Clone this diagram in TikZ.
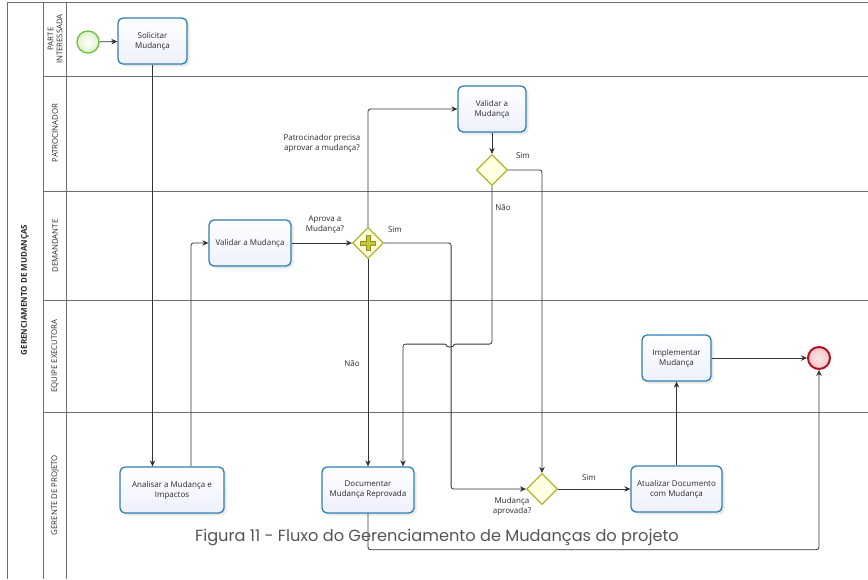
\documentclass[tikz,border=0pt]{standalone}
\usepackage{fontspec}
\setmainfont{Open Sans}
\newfontfamily\capfont{Poppins}
\usetikzlibrary{shapes.geometric,arrows.meta,shadows,calc}

\definecolor{taskblue}{HTML}{2F7FB0}
\definecolor{taskfill}{HTML}{EEF0FC}
\definecolor{gateline}{HTML}{B4B42C}
\definecolor{gatefill}{HTML}{FFFFE2}
\definecolor{plusfill}{HTML}{C6C638}
\definecolor{startline}{HTML}{6CBF3C}
\definecolor{startfill}{HTML}{DDF2C8}
\definecolor{endline}{HTML}{B0141C}
\definecolor{endfill}{HTML}{F3C4C6}
\definecolor{flowc}{HTML}{333333}
\definecolor{lanec}{HTML}{6E6E6E}
\definecolor{txt}{HTML}{2A2A2A}
\definecolor{capc}{HTML}{555555}

\tikzset{
  task/.style={draw=taskblue, line width=1.3pt, rounded corners=5pt,
    top color=white, bottom color=taskfill, minimum height=46pt,
    align=center, font=\fontsize{8}{10}\selectfont, text=txt, inner sep=2pt,
    drop shadow={opacity=0.18, shadow xshift=2.5pt, shadow yshift=-2.5pt}},
  gate/.style={diamond, draw=gateline, line width=1.2pt, fill=gatefill,
    minimum width=31pt, minimum height=31pt, inner sep=0pt},
  flow/.style={draw=flowc, line width=0.8pt, rounded corners=2.5pt,
    -{Stealth[length=6pt,width=5.5pt]}},
  lbl/.style={font=\fontsize{8}{10}\selectfont, text=txt, align=center, inner sep=0pt},
  lanelbl/.style={font=\fontsize{7.8}{9}\selectfont, text=txt, rotate=90, align=center, inner sep=0pt},
  laneline/.style={draw=lanec, line width=0.9pt},
}

\begin{document}
\begin{tikzpicture}[x=1pt,y=-1pt]
\useasboundingbox (0,0) rectangle (868,579);
\fill[white] (0,0) rectangle (868,579);

% pool and lanes
\draw[laneline] (868,2) -- (7,2) -- (7,579);
\draw[laneline] (43,2) -- (43,579);
\draw[laneline] (66,2) -- (66,579);
\foreach \yy in {76,191,300,412}
  \draw[laneline] (43,\yy) -- (868,\yy);

\node[lanelbl, font=\fontsize{8}{9}\selectfont\bfseries] (pool) at (25,290) {GERENCIAMENTO DE MUDANÇAS};
\node[lanelbl] (l1) at (55,39) {PARTE\\INTERESSADA};
\node[lanelbl] (l2) at (55,133) {PATROCINADOR};
\node[lanelbl] (l3) at (55,246) {DEMANDANTE};
\node[lanelbl] (l4) at (55,356) {EQUIPE EXECUTORA};
\node[lanelbl] (l5) at (55,495) {GERENTE DE PROJETO};

% events
\node[circle, draw=startline, line width=1.3pt, inner color=white, outer color=startfill,
  minimum size=22pt, inner sep=0pt] (start) at (88,42) {};
\node[circle, draw=endline, line width=2pt, inner color=white!60!endfill, outer color=endfill,
  minimum size=22pt, inner sep=0pt] (end) at (819,358) {};

% tasks
\node[task, minimum width=69pt] (sol) at (152.5,41) {Solicitar\\Mudança};
\node[task, minimum width=104pt] (ana) at (172,490) {Analisar a Mudança e\\Impactos};
\node[task, minimum width=82pt] (valD) at (250,243) {Validar a Mudança};
\node[task, minimum width=68pt] (valP) at (492,109) {Validar a\\Mudança};
\node[task, minimum width=92pt] (doc) at (368,490) {Documentar\\Mudança Reprovada};
\node[task, minimum width=91pt] (atu) at (676.5,489) {Atualizar Documento\\com Mudança};
\node[task, minimum width=69pt] (imp) at (676.5,358) {Implementar\\Mudança};

% gateways
\node[gate] (gwP) at (368,243) {};
\fill[plusfill, draw=gateline!80!black, line width=0.4pt]
  ($(gwP)+(-2.2,-7.5)$) -- ($(gwP)+(2.2,-7.5)$) -- ($(gwP)+(2.2,-2.2)$) -- ($(gwP)+(7.5,-2.2)$)
  -- ($(gwP)+(7.5,2.2)$) -- ($(gwP)+(2.2,2.2)$) -- ($(gwP)+(2.2,7.5)$) -- ($(gwP)+(-2.2,7.5)$)
  -- ($(gwP)+(-2.2,2.2)$) -- ($(gwP)+(-7.5,2.2)$) -- ($(gwP)+(-7.5,-2.2)$) -- ($(gwP)+(-2.2,-2.2)$) -- cycle;
\node[gate] (gwX) at (492,170) {};
\node[gate] (gwA) at (542,489) {};

% sequence flows
\draw[flow] (start) -- (sol);
\draw[flow] (sol.south) -- (sol.south |- ana.north);
\draw[flow] ([xshift=19pt]ana.north) |- (valD.west);
\draw[flow] (valD) -- (gwP);
\draw[flow] (gwP.north) |- (valP.west);
\draw[flow] (valP.south) -- (gwX.north);
\draw[flow] (gwX.east) -| (gwA.north);
\draw[flow] (gwX.south) -- ++(0,158) -- ++(-39,0)
  arc[start angle=0, end angle=180, radius=3] -| ([xshift=35pt]doc.north);
\draw[flow] (gwP.east) -- ++(67,0) |- (gwA.west);
\draw[flow] (gwP.south) -- (doc.north);
\draw[flow] (gwA.east) -- (atu.west);
\draw[flow] (atu.north) -- (imp.south);
\draw[flow] (imp.east) -- (end.west);
\draw[flow] (doc.south) -- ++(0,36) -| (end.south);

% flow labels
\node[lbl] (q1) at (325,225) {Aprova a\\Mudança?};
\node[lbl] (q2) at (322,143) {Patrocinador precisa\\aprovar a mudança?};
\node[lbl] (s1) at (395,230) {Sim};
\node[lbl] (s2) at (523,156) {Sim};
\node[lbl] (n1) at (503,208) {Não};
\node[lbl] (n2) at (352,364) {Não};
\node[lbl] (q3) at (512,506) {Mudança\\aprovada?};
\node[lbl] (s3) at (589,478) {Sim};

% caption
\node[font=\capfont\fontsize{16.2}{19}\selectfont, text=capc, inner sep=0pt] (cap) at (437,538)
  {Figura 11 - Fluxo do Gerenciamento de Mudanças do projeto};
\end{tikzpicture}
\end{document}
